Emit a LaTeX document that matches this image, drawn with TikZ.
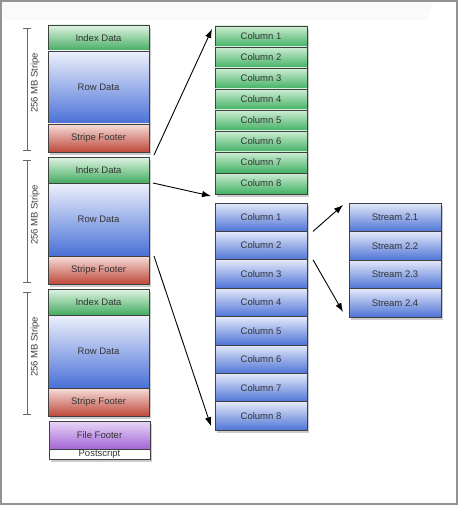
\documentclass[tikz,border=0pt]{standalone}
\usepackage{fontspec}
\setmainfont{Liberation Sans}
\usetikzlibrary{positioning,arrows.meta,shadows}

\definecolor{idxtop}{RGB}{224,244,228}
\definecolor{idxbot}{RGB}{68,172,96}
\definecolor{rowtop}{RGB}{238,241,252}
\definecolor{rowbot}{RGB}{72,112,214}
\definecolor{ftrtop}{RGB}{246,222,218}
\definecolor{ftrbot}{RGB}{190,72,58}
\definecolor{fftop}{RGB}{232,214,246}
\definecolor{ffbot}{RGB}{162,102,214}
\definecolor{gcoltop}{RGB}{206,238,212}
\definecolor{gcolbot}{RGB}{64,176,98}
\definecolor{bcoltop}{RGB}{228,233,250}
\definecolor{bcolbot}{RGB}{78,116,214}

\tikzset{
  seg/.style={draw=black!75, line width=0.8pt, inner sep=0pt, outer sep=0pt,
    minimum width=101pt, font=\fontsize{9.5}{10}\selectfont, text=black!80,
    drop shadow={shadow xshift=2pt, shadow yshift=-3pt, opacity=0.4}},
  idxseg/.style={seg, minimum height=26pt, top color=idxtop, bottom color=idxbot},
  rowseg/.style={seg, minimum height=73pt, top color=rowtop, bottom color=rowbot},
  ftrseg/.style={seg, minimum height=28pt, top color=ftrtop, bottom color=ftrbot},
  ffseg/.style={seg, minimum height=28pt, top color=fftop, bottom color=ffbot},
  psseg/.style={seg, minimum height=10pt, fill=white},
  colbox/.style={seg, minimum width=92pt},
  gcol/.style={colbox, minimum height=21pt, top color=gcoltop, bottom color=gcolbot},
  bcol/.style={colbox, minimum height=28.4pt, top color=bcoltop, bottom color=bcolbot},
  stream/.style={colbox, minimum height=28.5pt, top color=bcoltop, bottom color=bcolbot},
  stripebar/.style={draw=black!60, line width=0.6pt, {Bar[width=8pt]}-{Bar[width=8pt]}},
  flow/.style={-{Latex[length=9pt,width=6.5pt]}, line width=0.9pt, black}
}

\begin{document}
\begin{tikzpicture}[x=1pt,y=-1pt]
    \useasboundingbox (0,0) rectangle (458,505);
    % Frame and gloss
    \fill[black!2] (2,2) -- (434,2) -- (426,20) -- (2,20) -- cycle;
    \draw[gray!85, line width=2pt] (1,1) rectangle (457,504);

    % Stripes
    \foreach \s/\y in {1/25,2/157,3/289} {
        \node[idxseg, anchor=north west] (idx\s) at (48,\y) {Index Data};
        \node[rowseg, below=0pt of idx\s] (row\s) {Row Data};
        \node[ftrseg, below=0pt of row\s] (ftr\s) {Stripe Footer};
        \draw[stripebar] ([xshift=-21pt,yshift=-3pt]idx\s.north west) -- ([xshift=-21pt,yshift=1pt]ftr\s.south west)
            node[pos=0.43, rotate=90, below=2pt, font=\fontsize{9.5}{10}\selectfont, text=black!75] (lbl\s) {256 MB Stripe};
    }

    % File footer and postscript
    \node[ffseg, anchor=north west] (ffoot) at (49,421) {File Footer};
    \node[psseg, below=0pt of ffoot] (pscript) {Postscript};

    % Column streams of one stripe
    \foreach \i in {1,...,8}
        \node[gcol, anchor=north west] (gcol\i) at (215,{26+21*(\i-1)}) {Column \i};
    \foreach \i in {1,...,8}
        \node[bcol, anchor=north west] (bcol\i) at (215,{203+28.4*(\i-1)}) {Column \i};

    % Streams of column 2
    \foreach \i in {1,...,4}
        \node[stream, anchor=north west] (str\i) at (349,{203+28.5*(\i-1)}) {Stream 2.\i};

    % Arrows
    \draw[flow] ([xshift=5pt,yshift=2pt]idx2.north east) -- ([xshift=-3pt,yshift=-3pt]gcol1.north west);
    \draw[flow] ([xshift=4pt]idx2.south east) -- ([xshift=-4pt,yshift=-2pt]gcol8.south west);
    \draw[flow] ([xshift=5pt]ftr2.north east) -- ([xshift=-4pt,yshift=4pt]bcol8.south west);
    \draw[flow] ([xshift=6pt]bcol1.south east) -- ([xshift=-6pt,yshift=-2pt]str1.north west);
    \draw[flow] ([xshift=6pt]bcol2.south east) -- ([xshift=-6pt,yshift=5pt]str4.south west);
\end{tikzpicture}
\end{document}
